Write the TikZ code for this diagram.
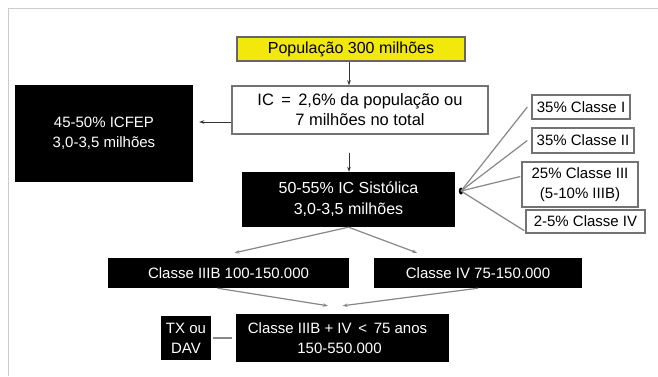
\documentclass[tikz,border=0pt]{standalone}
\usepackage{fontspec}
\setmainfont{Liberation Sans}
\usetikzlibrary{arrows.meta,calc}
\definecolor{ylw}{RGB}{242,232,12}
\definecolor{edge}{RGB}{115,115,115}
\definecolor{lnk}{RGB}{135,135,135}
\begin{document}
\begin{tikzpicture}[x=1pt,y=-1pt,
  txt/.style={font=\fontsize{15}{20}\selectfont, align=center, inner sep=0pt, rectangle},
  wbox/.style={txt, draw=edge, line width=1.4pt, fill=white},
  bbox/.style={txt, fill=black, text=white},
  arr/.style={-{Stealth[length=5pt,width=3.5pt]}, line width=0.9pt, draw=black!80},
  garr/.style={-{Stealth[length=5pt,width=3.5pt]}, line width=1.2pt, draw=lnk},
  gline/.style={line width=1.2pt, draw=lnk}]
\useasboundingbox (0,0) rectangle (658,376);
\fill[white] (0,0) rectangle (658,376);
\draw[black!20, line width=1pt] (8,376) -- (8,8) -- (658,8);

% nodes
\node[wbox, fill=ylw, draw=black!60, minimum width=228pt, minimum height=24pt, font=\fontsize{16}{20}\selectfont] (pop) at (351,49) {População 300 milhões};
\node[wbox, minimum width=256pt, minimum height=48pt, font=\fontsize{16.5}{20}\selectfont] (ic) at (360,110) {IC \,=\, 2,6\% da população ou\\7 milhões no total};
\node[bbox, minimum width=178pt, minimum height=97pt] (icfep) at (104,133.5) {45-50\% ICFEP\\3,0-3,5 milhões};
\node[bbox, minimum width=213pt, minimum height=55pt, font=\fontsize{16}{21}\selectfont] (sis) at (348.5,199.5) {50-55\% IC Sistólica\\3,0-3,5 milhões};

\node[wbox, minimum width=98pt, minimum height=24pt] (c1) at (581,107) {35\% Classe I};
\node[wbox, minimum width=102pt, minimum height=25pt] (c2) at (583,140.5) {35\% Classe II};
\node[wbox, minimum width=116pt, minimum height=45pt] (c3) at (580,184.5) {25\% Classe III\\(5-10\% IIIB)};
\node[wbox, minimum width=119pt, minimum height=23pt] (c4) at (585.5,221.5) {2-5\% Classe IV};

\node[bbox, minimum width=241pt, minimum height=30pt] (iiib) at (228.5,273) {Classe IIIB 100-150.000};
\node[bbox, minimum width=208pt, minimum height=30pt] (civ) at (478,273) {Classe IV 75-150.000};
\node[bbox, minimum width=50pt, minimum height=44pt] (tx) at (186,338) {TX ou\\DAV};
\node[bbox, minimum width=213pt, minimum height=48pt] (sum) at (342.5,338) {Classe IIIB + IV \,<\, 75 anos\hspace*{10pt}\\150-550.000\hspace*{6pt}};

% connectors
\draw[arr] (pop.south -| 349,0) -- (ic.north -| 349,0);
\draw[arr, shorten >=6pt] ([yshift=-12pt]ic.west) -- ([yshift=-12pt]ic.west -| icfep.east);
\draw[arr, shorten <=18pt] (ic.south -| 349,0) -- (sis.north -| 349,0);

\coordinate (hub) at (461,191);
\fill (hub) ellipse [x radius=2.2, y radius=3.5];
\draw[gline] (hub) -- ([xshift=-4pt]c1.west);
\draw[gline] (hub) -- ([xshift=-4pt]c2.west);
\draw[gline] (hub) -- ([xshift=-1pt,yshift=8pt]c3.west);
\draw[gline] (hub) -- ([xshift=-1pt,yshift=3pt]c4.south west);

\draw[garr] (sis.south) -- ($(iiib.north)+(6,-5)$);
\draw[garr] (sis.south) -- ($(civ.north)+(-61,-5)$);
\draw[garr] ($(iiib.south)+(-11,0)$) -- ($(sum.north)+(-14.5,-8)$);
\draw[garr] (civ.south) -- ($(sum.north)+(0,-8)$);
\draw[gline, shorten <=2pt, shorten >=4pt] (tx.east) -- (sum.west);
\end{tikzpicture}
\end{document}
